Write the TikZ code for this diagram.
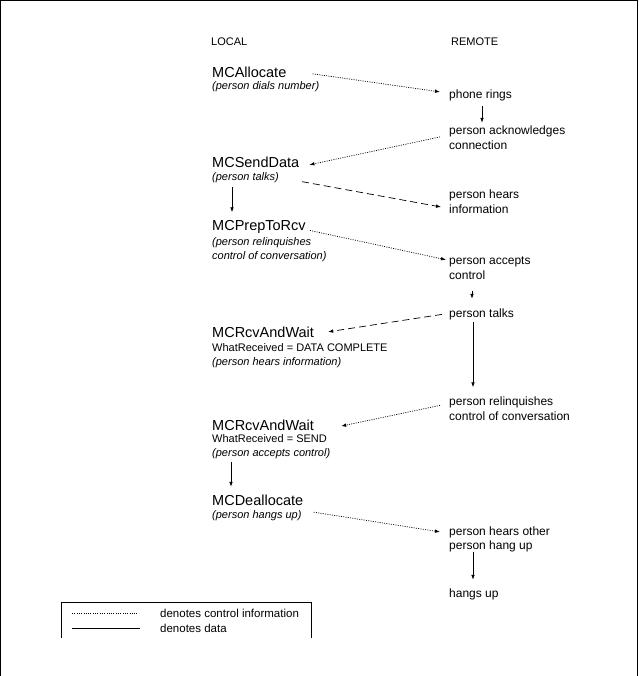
\documentclass[tikz,border=0pt]{standalone}
\usepackage{fontspec}
\setmainfont{Liberation Sans}
\usetikzlibrary{arrows.meta}
\tikzset{
  mainlbl/.style={anchor=base west, inner sep=0pt, font=\fontsize{14.5}{16}\selectfont},
  sublbl/.style={anchor=base west, inner sep=0pt, font=\fontsize{11}{13}\selectfont},
  itlbl/.style={anchor=base west, inner sep=0pt, font=\fontsize{11}{13}\selectfont\itshape},
  remlbl/.style={anchor=base west, inner sep=0pt, font=\fontsize{12}{14}\selectfont},
  hdr/.style={anchor=base west, inner sep=0pt, font=\fontsize{11}{13}\selectfont},
  leglbl/.style={anchor=west, inner sep=0pt, font=\fontsize{11.5}{13}\selectfont},
  tip/.style={-{Latex[length=5pt,width=3.6pt]}},
  ctrl/.style={tip, line width=0.7pt, dash pattern=on 1pt off 1.3pt},
  datal/.style={tip, line width=0.7pt},
  dataw/.style={tip, line width=0.7pt, dash pattern=on 7pt off 4pt},
}
\begin{document}
\begin{tikzpicture}[x=1pt,y=-1pt]
\useasboundingbox (0,0) rectangle (638,676);
% outer frame
\draw[line width=1pt] (0.5,676) -- (0.5,0.5) -- (637.5,0.5) -- (637.5,676);

% headers
\node[hdr] (local) at (211,46) {LOCAL};
\node[hdr] (remote) at (451,46) {REMOTE};

% local side
\node[mainlbl] (alloc) at (212,78) {MCAllocate};
\node[itlbl] (allocI) at (212,89.5) {(person dials number)};
\node[mainlbl] (send) at (212,168) {MCSendData};
\node[itlbl] (sendI) at (212,181) {(person talks)};
\node[mainlbl] (prep) at (212,230) {MCPrepToRcv};
\node[itlbl] (prepI) at (212,245) {(person relinquishes};
\node[itlbl] (prepII) at (212,259) {control of conversation)};
\node[mainlbl] (rcvA) at (212,337) {MCRcvAndWait};
\node[sublbl] (rcvAW) at (212,351) {WhatReceived = DATA COMPLETE};
\node[itlbl] (rcvAI) at (212,365) {(person hears information)};
\node[mainlbl] (rcvB) at (212,430) {MCRcvAndWait};
\node[sublbl] (rcvBW) at (212,442) {WhatReceived = SEND};
\node[itlbl] (rcvBI) at (212,456) {(person accepts control)};
\node[mainlbl] (dealloc) at (212,505) {MCDeallocate};
\node[itlbl] (deallocI) at (212,518) {(person hangs up)};

% remote side
\node[remlbl] (phone) at (449,99) {phone rings};
\node[remlbl] (ack) at (449,135) {person acknowledges};
\node[remlbl] (conn) at (449,150) {connection};
\node[remlbl] (hears) at (449,199) {person hears};
\node[remlbl] (info) at (449,214) {information};
\node[remlbl] (accepts) at (449,264) {person accepts};
\node[remlbl] (ctl) at (449,279) {control};
\node[remlbl] (ptalks) at (449,317.5) {person talks};
\node[remlbl] (relinq) at (449,405.5) {person relinquishes};
\node[remlbl] (conv) at (449,420) {control of conversation};
\node[remlbl] (other) at (449,535) {person hears other};
\node[remlbl] (hangup) at (449,549.5) {person hang up};
\node[remlbl] (hangs) at (449,597.5) {hangs up};

% connectors
\draw[ctrl] ([xshift=26pt,yshift=-1pt]alloc.east) -- ([xshift=-9pt,yshift=4pt]phone.west);
\draw[datal] ([xshift=33pt,yshift=-4.5pt]phone.south west) -- ([xshift=33pt,yshift=3.3pt]ack.north west);
\draw[ctrl] ([xshift=-9pt,yshift=-5pt]ack.west) -- ([xshift=10pt,yshift=-2pt]send.east);
\draw[dataw] ([xshift=23pt,yshift=-3.5pt]sendI.east) -- ([xshift=-8pt,yshift=2.7pt]info.west);
\draw[datal] ([xshift=20pt,yshift=-3.7pt]sendI.south west) -- ([xshift=20pt,yshift=7.4pt]prep.north west);
\draw[ctrl] ([xshift=4pt,yshift=-4pt]prep.east) -- ([xshift=-3pt,yshift=1.6pt]accepts.west);
\draw[datal] ([xshift=23pt,yshift=-12pt]ctl.south west) -- ([xshift=23pt,yshift=9.8pt]ptalks.north west);
\draw[dataw] ([xshift=-7pt]ptalks.west) -- ([xshift=14pt]rcvA.east);
\draw[datal] ([xshift=24pt,yshift=-2pt]ptalks.south west) -- ([xshift=24pt,yshift=9.3pt]relinq.north west);
\draw[ctrl] ([xshift=-9pt,yshift=-3pt]relinq.west) -- ([xshift=27pt,yshift=-1.3pt]rcvB.east);
\draw[datal] ([xshift=19pt,yshift=-3.7pt]rcvBI.south west) -- ([xshift=19pt,yshift=7.5pt]dealloc.north west);
\draw[ctrl] ([xshift=12pt,yshift=3pt]deallocI.east) -- ([xshift=-9pt]other.west);
\draw[datal] ([xshift=24pt]hangup.south west) -- ([xshift=24pt,yshift=8.8pt]hangs.north west);

% legend
\draw[line width=0.8pt] (61,638) -- (61,602) -- (311,602) -- (311,638);
\coordinate (lgA1) at (72,613);
\coordinate (lgA2) at (138,613);
\coordinate (lgB1) at (72,628);
\coordinate (lgB2) at (140,628);
\draw[line width=0.7pt, dash pattern=on 1pt off 1.3pt] (lgA1) -- (lgA2);
\draw[line width=0.8pt] (lgB1) -- (lgB2);
\node[leglbl] (lgT1) at (160,613) {denotes control information};
\node[leglbl] (lgT2) at (160,628) {denotes data};
\end{tikzpicture}
\end{document}
